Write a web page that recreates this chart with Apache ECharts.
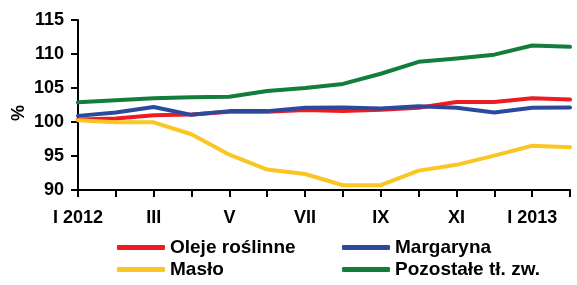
<!DOCTYPE html>
<html>
<head>
<meta charset="utf-8">
<script src="https://cdn.jsdelivr.net/npm/echarts@6/dist/echarts.min.js"></script>
<style>html,body{margin:0;padding:0;background:#fff}#c{width:577px;height:285px}</style>
</head>
<body>
<div id="c"></div>
<script>
var categories = ['I 2012','II','III','IV','V','VI','VII','VIII','IX','X','XI','XII','I 2013','II'];
var oleje = [100.35, 100.5, 101.0, 101.1, 101.5, 101.5, 101.75, 101.6, 101.8, 102.1, 102.95, 102.95, 103.5, 103.3];
var margaryna = [100.9, 101.4, 102.2, 101.05, 101.6, 101.6, 102.1, 102.15, 102.0, 102.3, 102.1, 101.4, 102.1, 102.15];
var maslo = [100.25, 99.95, 99.95, 98.2, 95.2, 93.0, 92.35, 90.7, 90.7, 92.85, 93.7, 95.05, 96.5, 96.3];
var pozostale = [102.9, 103.2, 103.5, 103.65, 103.7, 104.55, 105.0, 105.6, 107.1, 108.85, 109.35, 109.9, 111.25, 111.05];
var yTicks = [90, 95, 100, 105, 110, 115];
var seriesNames = ['Oleje roślinne', 'Margaryna', 'Masło', 'Pozostałe tł. zw.'];
var colors = ['#ed1c24', '#2b4a9c', '#f9c623', '#137d3c'];

var FONT = '"Liberation Sans", Arial, sans-serif';
var chart = echarts.init(document.getElementById('c'), null, {renderer: 'canvas'});
function mk(name, data, color) {
  return {name: name, type: 'line', data: data, showSymbol: false, symbol: 'none',
    lineStyle: {color: color, width: 4, cap: 'round', join: 'round'}, itemStyle: {color: color}, animation: false};
}
var legendCommon = {orient: 'vertical', top: 238, itemWidth: 48, itemHeight: 5, itemGap: 3, padding: 0,
  icon: 'roundRect', textStyle: {fontFamily: FONT, fontWeight: 'bold', fontSize: 19, color: '#000'}};
chart.setOption({
  animation: false,
  grid: {left: 78, right: 7, top: 20, bottom: 95},
  legend: [
    Object.assign({left: 117, data: [seriesNames[0], seriesNames[2]]}, legendCommon),
    Object.assign({left: 342, data: [seriesNames[1], seriesNames[3]]}, legendCommon)
  ],
  graphic: [{type: 'text', x: 19, y: 113, rotation: Math.PI / 2,
    style: {text: '%', fontFamily: FONT, fontWeight: 'bold', fontSize: 18, fill: '#000', textAlign: 'center', textVerticalAlign: 'middle'}}],
  xAxis: {type: 'category', data: categories, boundaryGap: false,
    axisLine: {lineStyle: {color: '#000', width: 2}},
    axisTick: {show: true, interval: 0, length: 7, lineStyle: {color: '#000', width: 2}},
    axisLabel: {interval: 1, margin: 19, color: '#000', fontFamily: FONT, fontWeight: 'bold', fontSize: 18},
    splitLine: {show: false}},
  yAxis: {type: 'value', min: yTicks[0], max: yTicks[yTicks.length - 1], interval: yTicks[1] - yTicks[0],
    axisLine: {show: true, lineStyle: {color: '#000', width: 2}},
    axisTick: {show: true, length: 7, lineStyle: {color: '#000', width: 2}},
    axisLabel: {margin: 14, color: '#000', fontFamily: FONT, fontWeight: 'bold', fontSize: 18},
    splitLine: {show: false}},
  series: [
    mk(seriesNames[0], oleje, colors[0]),
    mk(seriesNames[2], maslo, colors[2]),
    mk(seriesNames[1], margaryna, colors[1]),
    mk(seriesNames[3], pozostale, colors[3])
  ]
});
</script>
</body>
</html>
